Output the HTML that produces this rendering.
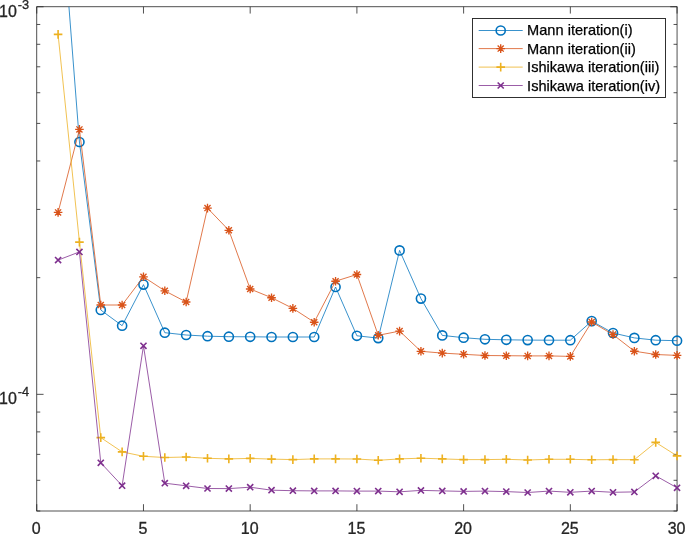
<!DOCTYPE html>
<html><head><meta charset="utf-8"><title>Iteration comparison</title>
<style>html,body{margin:0;padding:0;background:#fff;}body{width:685px;height:534px;overflow:hidden;font-family:"Liberation Sans",sans-serif;}svg{display:block;}</style>
</head><body>
<svg width="685" height="534" viewBox="0 0 685 534">
<defs><filter id="g" filterUnits="userSpaceOnUse" x="0" y="0" width="685" height="534"><feColorMatrix type="matrix" values="1 0 0 0 0 0 1 0 0 0 0 0 1 0 0 0 0 0 1 0"/></filter><clipPath id="ax"><rect x="36.75" y="6.75" width="640.3" height="504.25"/></clipPath></defs>
<rect width="685" height="534" fill="#fff"/>
<rect x="36.75" y="6.75" width="640.3" height="504.25" fill="none" stroke="#262626" stroke-width="0.8"/>
<path d="M36.75 511.0V504.2M36.75 6.75V13.55M143.47 511.0V504.2M143.47 6.75V13.55M250.18 511.0V504.2M250.18 6.75V13.55M356.90 511.0V504.2M356.90 6.75V13.55M463.62 511.0V504.2M463.62 6.75V13.55M570.33 511.0V504.2M570.33 6.75V13.55M677.05 511.0V504.2M677.05 6.75V13.55M36.75 6.75H43.55M677.05 6.75H670.25M36.75 394.33H43.55M677.05 394.33H670.25M36.75 24.48H40.25M677.05 24.48H673.55M36.75 44.31H40.25M677.05 44.31H673.55M36.75 66.79H40.25M677.05 66.79H673.55M36.75 92.73H40.25M677.05 92.73H673.55M36.75 123.42H40.25M677.05 123.42H673.55M36.75 160.98H40.25M677.05 160.98H673.55M36.75 209.41H40.25M677.05 209.41H673.55M36.75 277.66H40.25M677.05 277.66H673.55M36.75 412.06H40.25M677.05 412.06H673.55M36.75 431.89H40.25M677.05 431.89H673.55M36.75 454.36H40.25M677.05 454.36H673.55M36.75 480.31H40.25M677.05 480.31H673.55M36.75 511.00H40.25M677.05 511.00H673.55" stroke="#262626" stroke-width="0.8" fill="none"/>
<polyline points="58.09,-133.00 79.44,142.00 100.78,310.00 122.12,325.70 143.47,284.60 164.81,332.70 186.15,335.00 207.50,336.20 228.84,336.70 250.18,336.80 271.53,337.00 292.87,337.00 314.21,337.00 335.56,287.00 356.90,335.80 378.24,338.10 399.59,250.40 420.93,298.60 442.27,335.40 463.62,337.70 484.96,339.30 506.30,339.80 527.65,340.10 548.99,340.20 570.33,340.20 591.68,321.10 613.02,333.00 634.36,337.90 655.71,340.20 677.05,340.70" fill="none" stroke="#0072BD" stroke-width="0.78" stroke-linejoin="round" clip-path="url(#ax)"/>
<circle cx="79.44" cy="142.00" r="4.55" fill="none" stroke="#0072BD" stroke-width="1.6"/>
<circle cx="100.78" cy="310.00" r="4.55" fill="none" stroke="#0072BD" stroke-width="1.6"/>
<circle cx="122.12" cy="325.70" r="4.55" fill="none" stroke="#0072BD" stroke-width="1.6"/>
<circle cx="143.47" cy="284.60" r="4.55" fill="none" stroke="#0072BD" stroke-width="1.6"/>
<circle cx="164.81" cy="332.70" r="4.55" fill="none" stroke="#0072BD" stroke-width="1.6"/>
<circle cx="186.15" cy="335.00" r="4.55" fill="none" stroke="#0072BD" stroke-width="1.6"/>
<circle cx="207.50" cy="336.20" r="4.55" fill="none" stroke="#0072BD" stroke-width="1.6"/>
<circle cx="228.84" cy="336.70" r="4.55" fill="none" stroke="#0072BD" stroke-width="1.6"/>
<circle cx="250.18" cy="336.80" r="4.55" fill="none" stroke="#0072BD" stroke-width="1.6"/>
<circle cx="271.53" cy="337.00" r="4.55" fill="none" stroke="#0072BD" stroke-width="1.6"/>
<circle cx="292.87" cy="337.00" r="4.55" fill="none" stroke="#0072BD" stroke-width="1.6"/>
<circle cx="314.21" cy="337.00" r="4.55" fill="none" stroke="#0072BD" stroke-width="1.6"/>
<circle cx="335.56" cy="287.00" r="4.55" fill="none" stroke="#0072BD" stroke-width="1.6"/>
<circle cx="356.90" cy="335.80" r="4.55" fill="none" stroke="#0072BD" stroke-width="1.6"/>
<circle cx="378.24" cy="338.10" r="4.55" fill="none" stroke="#0072BD" stroke-width="1.6"/>
<circle cx="399.59" cy="250.40" r="4.55" fill="none" stroke="#0072BD" stroke-width="1.6"/>
<circle cx="420.93" cy="298.60" r="4.55" fill="none" stroke="#0072BD" stroke-width="1.6"/>
<circle cx="442.27" cy="335.40" r="4.55" fill="none" stroke="#0072BD" stroke-width="1.6"/>
<circle cx="463.62" cy="337.70" r="4.55" fill="none" stroke="#0072BD" stroke-width="1.6"/>
<circle cx="484.96" cy="339.30" r="4.55" fill="none" stroke="#0072BD" stroke-width="1.6"/>
<circle cx="506.30" cy="339.80" r="4.55" fill="none" stroke="#0072BD" stroke-width="1.6"/>
<circle cx="527.65" cy="340.10" r="4.55" fill="none" stroke="#0072BD" stroke-width="1.6"/>
<circle cx="548.99" cy="340.20" r="4.55" fill="none" stroke="#0072BD" stroke-width="1.6"/>
<circle cx="570.33" cy="340.20" r="4.55" fill="none" stroke="#0072BD" stroke-width="1.6"/>
<circle cx="591.68" cy="321.10" r="4.55" fill="none" stroke="#0072BD" stroke-width="1.6"/>
<circle cx="613.02" cy="333.00" r="4.55" fill="none" stroke="#0072BD" stroke-width="1.6"/>
<circle cx="634.36" cy="337.90" r="4.55" fill="none" stroke="#0072BD" stroke-width="1.6"/>
<circle cx="655.71" cy="340.20" r="4.55" fill="none" stroke="#0072BD" stroke-width="1.6"/>
<circle cx="677.05" cy="340.70" r="4.55" fill="none" stroke="#0072BD" stroke-width="1.6"/>
<polyline points="58.09,212.40 79.44,129.40 100.78,305.00 122.12,305.00 143.47,276.80 164.81,290.80 186.15,302.00 207.50,208.10 228.84,230.30 250.18,289.00 271.53,297.70 292.87,308.40 314.21,322.20 335.56,281.20 356.90,274.50 378.24,335.30 399.59,331.10 420.93,351.30 442.27,353.10 463.62,354.30 484.96,355.50 506.30,355.70 527.65,355.90 548.99,355.90 570.33,356.40 591.68,322.00 613.02,334.60 634.36,351.20 655.71,354.50 677.05,355.40" fill="none" stroke="#D95319" stroke-width="0.78" stroke-linejoin="round" clip-path="url(#ax)"/>
<path d="M53.79 212.40H62.39M58.09 208.10V216.70M55.05 209.36L61.13 215.44M55.05 215.44L61.13 209.36" stroke="#D95319" stroke-width="1.35" fill="none"/>
<path d="M75.14 129.40H83.74M79.44 125.10V133.70M76.40 126.36L82.48 132.44M76.40 132.44L82.48 126.36" stroke="#D95319" stroke-width="1.35" fill="none"/>
<path d="M96.48 305.00H105.08M100.78 300.70V309.30M97.74 301.96L103.82 308.04M97.74 308.04L103.82 301.96" stroke="#D95319" stroke-width="1.35" fill="none"/>
<path d="M117.82 305.00H126.42M122.12 300.70V309.30M119.08 301.96L125.16 308.04M119.08 308.04L125.16 301.96" stroke="#D95319" stroke-width="1.35" fill="none"/>
<path d="M139.17 276.80H147.77M143.47 272.50V281.10M140.43 273.76L146.51 279.84M140.43 279.84L146.51 273.76" stroke="#D95319" stroke-width="1.35" fill="none"/>
<path d="M160.51 290.80H169.11M164.81 286.50V295.10M161.77 287.76L167.85 293.84M161.77 293.84L167.85 287.76" stroke="#D95319" stroke-width="1.35" fill="none"/>
<path d="M181.85 302.00H190.45M186.15 297.70V306.30M183.11 298.96L189.19 305.04M183.11 305.04L189.19 298.96" stroke="#D95319" stroke-width="1.35" fill="none"/>
<path d="M203.20 208.10H211.80M207.50 203.80V212.40M204.46 205.06L210.54 211.14M204.46 211.14L210.54 205.06" stroke="#D95319" stroke-width="1.35" fill="none"/>
<path d="M224.54 230.30H233.14M228.84 226.00V234.60M225.80 227.26L231.88 233.34M225.80 233.34L231.88 227.26" stroke="#D95319" stroke-width="1.35" fill="none"/>
<path d="M245.88 289.00H254.48M250.18 284.70V293.30M247.14 285.96L253.22 292.04M247.14 292.04L253.22 285.96" stroke="#D95319" stroke-width="1.35" fill="none"/>
<path d="M267.23 297.70H275.83M271.53 293.40V302.00M268.49 294.66L274.57 300.74M268.49 300.74L274.57 294.66" stroke="#D95319" stroke-width="1.35" fill="none"/>
<path d="M288.57 308.40H297.17M292.87 304.10V312.70M289.83 305.36L295.91 311.44M289.83 311.44L295.91 305.36" stroke="#D95319" stroke-width="1.35" fill="none"/>
<path d="M309.91 322.20H318.51M314.21 317.90V326.50M311.17 319.16L317.25 325.24M311.17 325.24L317.25 319.16" stroke="#D95319" stroke-width="1.35" fill="none"/>
<path d="M331.26 281.20H339.86M335.56 276.90V285.50M332.52 278.16L338.60 284.24M332.52 284.24L338.60 278.16" stroke="#D95319" stroke-width="1.35" fill="none"/>
<path d="M352.60 274.50H361.20M356.90 270.20V278.80M353.86 271.46L359.94 277.54M353.86 277.54L359.94 271.46" stroke="#D95319" stroke-width="1.35" fill="none"/>
<path d="M373.94 335.30H382.54M378.24 331.00V339.60M375.20 332.26L381.28 338.34M375.20 338.34L381.28 332.26" stroke="#D95319" stroke-width="1.35" fill="none"/>
<path d="M395.29 331.10H403.89M399.59 326.80V335.40M396.55 328.06L402.63 334.14M396.55 334.14L402.63 328.06" stroke="#D95319" stroke-width="1.35" fill="none"/>
<path d="M416.63 351.30H425.23M420.93 347.00V355.60M417.89 348.26L423.97 354.34M417.89 354.34L423.97 348.26" stroke="#D95319" stroke-width="1.35" fill="none"/>
<path d="M437.97 353.10H446.57M442.27 348.80V357.40M439.23 350.06L445.31 356.14M439.23 356.14L445.31 350.06" stroke="#D95319" stroke-width="1.35" fill="none"/>
<path d="M459.32 354.30H467.92M463.62 350.00V358.60M460.58 351.26L466.66 357.34M460.58 357.34L466.66 351.26" stroke="#D95319" stroke-width="1.35" fill="none"/>
<path d="M480.66 355.50H489.26M484.96 351.20V359.80M481.92 352.46L488.00 358.54M481.92 358.54L488.00 352.46" stroke="#D95319" stroke-width="1.35" fill="none"/>
<path d="M502.00 355.70H510.60M506.30 351.40V360.00M503.26 352.66L509.34 358.74M503.26 358.74L509.34 352.66" stroke="#D95319" stroke-width="1.35" fill="none"/>
<path d="M523.35 355.90H531.95M527.65 351.60V360.20M524.61 352.86L530.69 358.94M524.61 358.94L530.69 352.86" stroke="#D95319" stroke-width="1.35" fill="none"/>
<path d="M544.69 355.90H553.29M548.99 351.60V360.20M545.95 352.86L552.03 358.94M545.95 358.94L552.03 352.86" stroke="#D95319" stroke-width="1.35" fill="none"/>
<path d="M566.03 356.40H574.63M570.33 352.10V360.70M567.29 353.36L573.37 359.44M567.29 359.44L573.37 353.36" stroke="#D95319" stroke-width="1.35" fill="none"/>
<path d="M587.38 322.00H595.98M591.68 317.70V326.30M588.64 318.96L594.72 325.04M588.64 325.04L594.72 318.96" stroke="#D95319" stroke-width="1.35" fill="none"/>
<path d="M608.72 334.60H617.32M613.02 330.30V338.90M609.98 331.56L616.06 337.64M609.98 337.64L616.06 331.56" stroke="#D95319" stroke-width="1.35" fill="none"/>
<path d="M630.06 351.20H638.66M634.36 346.90V355.50M631.32 348.16L637.40 354.24M631.32 354.24L637.40 348.16" stroke="#D95319" stroke-width="1.35" fill="none"/>
<path d="M651.41 354.50H660.01M655.71 350.20V358.80M652.67 351.46L658.75 357.54M652.67 357.54L658.75 351.46" stroke="#D95319" stroke-width="1.35" fill="none"/>
<path d="M672.75 355.40H681.35M677.05 351.10V359.70M674.01 352.36L680.09 358.44M674.01 358.44L680.09 352.36" stroke="#D95319" stroke-width="1.35" fill="none"/>
<polyline points="58.09,34.40 79.44,242.10 100.78,437.60 122.12,451.90 143.47,456.30 164.81,457.50 186.15,457.00 207.50,458.30 228.84,458.90 250.18,458.40 271.53,459.10 292.87,459.60 314.21,458.90 335.56,458.90 356.90,459.00 378.24,460.30 399.59,458.90 420.93,458.20 442.27,458.90 463.62,459.60 484.96,459.60 506.30,459.30 527.65,460.00 548.99,459.30 570.33,459.30 591.68,459.80 613.02,459.60 634.36,459.70 655.71,442.40 677.05,455.90" fill="none" stroke="#EDB120" stroke-width="0.78" stroke-linejoin="round" clip-path="url(#ax)"/>
<path d="M53.79 34.40H62.39M58.09 30.10V38.70" stroke="#EDB120" stroke-width="1.6" fill="none"/>
<path d="M75.14 242.10H83.74M79.44 237.80V246.40" stroke="#EDB120" stroke-width="1.6" fill="none"/>
<path d="M96.48 437.60H105.08M100.78 433.30V441.90" stroke="#EDB120" stroke-width="1.6" fill="none"/>
<path d="M117.82 451.90H126.42M122.12 447.60V456.20" stroke="#EDB120" stroke-width="1.6" fill="none"/>
<path d="M139.17 456.30H147.77M143.47 452.00V460.60" stroke="#EDB120" stroke-width="1.6" fill="none"/>
<path d="M160.51 457.50H169.11M164.81 453.20V461.80" stroke="#EDB120" stroke-width="1.6" fill="none"/>
<path d="M181.85 457.00H190.45M186.15 452.70V461.30" stroke="#EDB120" stroke-width="1.6" fill="none"/>
<path d="M203.20 458.30H211.80M207.50 454.00V462.60" stroke="#EDB120" stroke-width="1.6" fill="none"/>
<path d="M224.54 458.90H233.14M228.84 454.60V463.20" stroke="#EDB120" stroke-width="1.6" fill="none"/>
<path d="M245.88 458.40H254.48M250.18 454.10V462.70" stroke="#EDB120" stroke-width="1.6" fill="none"/>
<path d="M267.23 459.10H275.83M271.53 454.80V463.40" stroke="#EDB120" stroke-width="1.6" fill="none"/>
<path d="M288.57 459.60H297.17M292.87 455.30V463.90" stroke="#EDB120" stroke-width="1.6" fill="none"/>
<path d="M309.91 458.90H318.51M314.21 454.60V463.20" stroke="#EDB120" stroke-width="1.6" fill="none"/>
<path d="M331.26 458.90H339.86M335.56 454.60V463.20" stroke="#EDB120" stroke-width="1.6" fill="none"/>
<path d="M352.60 459.00H361.20M356.90 454.70V463.30" stroke="#EDB120" stroke-width="1.6" fill="none"/>
<path d="M373.94 460.30H382.54M378.24 456.00V464.60" stroke="#EDB120" stroke-width="1.6" fill="none"/>
<path d="M395.29 458.90H403.89M399.59 454.60V463.20" stroke="#EDB120" stroke-width="1.6" fill="none"/>
<path d="M416.63 458.20H425.23M420.93 453.90V462.50" stroke="#EDB120" stroke-width="1.6" fill="none"/>
<path d="M437.97 458.90H446.57M442.27 454.60V463.20" stroke="#EDB120" stroke-width="1.6" fill="none"/>
<path d="M459.32 459.60H467.92M463.62 455.30V463.90" stroke="#EDB120" stroke-width="1.6" fill="none"/>
<path d="M480.66 459.60H489.26M484.96 455.30V463.90" stroke="#EDB120" stroke-width="1.6" fill="none"/>
<path d="M502.00 459.30H510.60M506.30 455.00V463.60" stroke="#EDB120" stroke-width="1.6" fill="none"/>
<path d="M523.35 460.00H531.95M527.65 455.70V464.30" stroke="#EDB120" stroke-width="1.6" fill="none"/>
<path d="M544.69 459.30H553.29M548.99 455.00V463.60" stroke="#EDB120" stroke-width="1.6" fill="none"/>
<path d="M566.03 459.30H574.63M570.33 455.00V463.60" stroke="#EDB120" stroke-width="1.6" fill="none"/>
<path d="M587.38 459.80H595.98M591.68 455.50V464.10" stroke="#EDB120" stroke-width="1.6" fill="none"/>
<path d="M608.72 459.60H617.32M613.02 455.30V463.90" stroke="#EDB120" stroke-width="1.6" fill="none"/>
<path d="M630.06 459.70H638.66M634.36 455.40V464.00" stroke="#EDB120" stroke-width="1.6" fill="none"/>
<path d="M651.41 442.40H660.01M655.71 438.10V446.70" stroke="#EDB120" stroke-width="1.6" fill="none"/>
<path d="M672.75 455.90H681.35M677.05 451.60V460.20" stroke="#EDB120" stroke-width="1.6" fill="none"/>
<polyline points="58.09,260.10 79.44,251.90 100.78,462.80 122.12,485.70 143.47,345.80 164.81,483.20 186.15,485.80 207.50,488.50 228.84,488.60 250.18,487.20 271.53,490.20 292.87,490.70 314.21,490.90 335.56,490.90 356.90,491.10 378.24,491.10 399.59,491.80 420.93,490.40 442.27,490.90 463.62,491.40 484.96,491.10 506.30,491.60 527.65,492.50 548.99,491.10 570.33,492.30 591.68,491.10 613.02,492.30 634.36,491.90 655.71,475.80 677.05,487.80" fill="none" stroke="#7E2F8E" stroke-width="0.78" stroke-linejoin="round" clip-path="url(#ax)"/>
<path d="M55.04 257.05L61.14 263.15M55.04 263.15L61.14 257.05" stroke="#7E2F8E" stroke-width="1.6" fill="none"/>
<path d="M76.39 248.85L82.49 254.95M76.39 254.95L82.49 248.85" stroke="#7E2F8E" stroke-width="1.6" fill="none"/>
<path d="M97.73 459.75L103.83 465.85M97.73 465.85L103.83 459.75" stroke="#7E2F8E" stroke-width="1.6" fill="none"/>
<path d="M119.07 482.65L125.17 488.75M119.07 488.75L125.17 482.65" stroke="#7E2F8E" stroke-width="1.6" fill="none"/>
<path d="M140.42 342.75L146.52 348.85M140.42 348.85L146.52 342.75" stroke="#7E2F8E" stroke-width="1.6" fill="none"/>
<path d="M161.76 480.15L167.86 486.25M161.76 486.25L167.86 480.15" stroke="#7E2F8E" stroke-width="1.6" fill="none"/>
<path d="M183.10 482.75L189.20 488.85M183.10 488.85L189.20 482.75" stroke="#7E2F8E" stroke-width="1.6" fill="none"/>
<path d="M204.45 485.45L210.55 491.55M204.45 491.55L210.55 485.45" stroke="#7E2F8E" stroke-width="1.6" fill="none"/>
<path d="M225.79 485.55L231.89 491.65M225.79 491.65L231.89 485.55" stroke="#7E2F8E" stroke-width="1.6" fill="none"/>
<path d="M247.13 484.15L253.23 490.25M247.13 490.25L253.23 484.15" stroke="#7E2F8E" stroke-width="1.6" fill="none"/>
<path d="M268.48 487.15L274.58 493.25M268.48 493.25L274.58 487.15" stroke="#7E2F8E" stroke-width="1.6" fill="none"/>
<path d="M289.82 487.65L295.92 493.75M289.82 493.75L295.92 487.65" stroke="#7E2F8E" stroke-width="1.6" fill="none"/>
<path d="M311.16 487.85L317.26 493.95M311.16 493.95L317.26 487.85" stroke="#7E2F8E" stroke-width="1.6" fill="none"/>
<path d="M332.51 487.85L338.61 493.95M332.51 493.95L338.61 487.85" stroke="#7E2F8E" stroke-width="1.6" fill="none"/>
<path d="M353.85 488.05L359.95 494.15M353.85 494.15L359.95 488.05" stroke="#7E2F8E" stroke-width="1.6" fill="none"/>
<path d="M375.19 488.05L381.29 494.15M375.19 494.15L381.29 488.05" stroke="#7E2F8E" stroke-width="1.6" fill="none"/>
<path d="M396.54 488.75L402.64 494.85M396.54 494.85L402.64 488.75" stroke="#7E2F8E" stroke-width="1.6" fill="none"/>
<path d="M417.88 487.35L423.98 493.45M417.88 493.45L423.98 487.35" stroke="#7E2F8E" stroke-width="1.6" fill="none"/>
<path d="M439.22 487.85L445.32 493.95M439.22 493.95L445.32 487.85" stroke="#7E2F8E" stroke-width="1.6" fill="none"/>
<path d="M460.57 488.35L466.67 494.45M460.57 494.45L466.67 488.35" stroke="#7E2F8E" stroke-width="1.6" fill="none"/>
<path d="M481.91 488.05L488.01 494.15M481.91 494.15L488.01 488.05" stroke="#7E2F8E" stroke-width="1.6" fill="none"/>
<path d="M503.25 488.55L509.35 494.65M503.25 494.65L509.35 488.55" stroke="#7E2F8E" stroke-width="1.6" fill="none"/>
<path d="M524.60 489.45L530.70 495.55M524.60 495.55L530.70 489.45" stroke="#7E2F8E" stroke-width="1.6" fill="none"/>
<path d="M545.94 488.05L552.04 494.15M545.94 494.15L552.04 488.05" stroke="#7E2F8E" stroke-width="1.6" fill="none"/>
<path d="M567.28 489.25L573.38 495.35M567.28 495.35L573.38 489.25" stroke="#7E2F8E" stroke-width="1.6" fill="none"/>
<path d="M588.63 488.05L594.73 494.15M588.63 494.15L594.73 488.05" stroke="#7E2F8E" stroke-width="1.6" fill="none"/>
<path d="M609.97 489.25L616.07 495.35M609.97 495.35L616.07 489.25" stroke="#7E2F8E" stroke-width="1.6" fill="none"/>
<path d="M631.31 488.85L637.41 494.95M631.31 494.95L637.41 488.85" stroke="#7E2F8E" stroke-width="1.6" fill="none"/>
<path d="M652.66 472.75L658.76 478.85M652.66 478.85L658.76 472.75" stroke="#7E2F8E" stroke-width="1.6" fill="none"/>
<path d="M674.00 484.75L680.10 490.85M674.00 490.85L680.10 484.75" stroke="#7E2F8E" stroke-width="1.6" fill="none"/>
<g filter="url(#g)" font-family="Liberation Sans, sans-serif" font-size="16.0" fill="#262626" stroke="#262626" stroke-width="0.3">
<text x="36.25" y="534.0" text-anchor="middle">0</text>
<text x="142.97" y="534.0" text-anchor="middle">5</text>
<text x="249.68" y="534.0" text-anchor="middle">10</text>
<text x="356.40" y="534.0" text-anchor="middle">15</text>
<text x="463.12" y="534.0" text-anchor="middle">20</text>
<text x="569.83" y="534.0" text-anchor="middle">25</text>
<text x="676.55" y="534.0" text-anchor="middle">30</text>
<text x="16.8" y="16.65" text-anchor="end">10</text>
<text x="17.7" y="8.75" font-size="12.8">-3</text>
<text x="16.8" y="404.23" text-anchor="end">10</text>
<text x="17.7" y="396.33" font-size="12.8">-4</text>
</g>
<rect x="472.5" y="18.5" width="193.0" height="79.0" fill="#fff" stroke="#262626" stroke-width="0.95"/>
<g filter="url(#g)" font-family="Liberation Sans, sans-serif" font-size="14.6" fill="#000">
<path d="M478.7 30.5H522.7" stroke="#0072BD" stroke-width="0.78" fill="none"/>
<circle cx="500.70" cy="30.50" r="4.55" fill="none" stroke="#0072BD" stroke-width="1.6"/>
<text x="527.1" y="35.00" stroke="#000" stroke-width="0.25">Mann iteration(i)</text>
<path d="M478.7 48.6H522.7" stroke="#D95319" stroke-width="0.78" fill="none"/>
<path d="M496.40 48.60H505.00M500.70 44.30V52.90M497.66 45.56L503.74 51.64M497.66 51.64L503.74 45.56" stroke="#D95319" stroke-width="1.35" fill="none"/>
<text x="527.1" y="53.70" stroke="#000" stroke-width="0.25">Mann iteration(ii)</text>
<path d="M478.7 67.1H522.7" stroke="#EDB120" stroke-width="0.78" fill="none"/>
<path d="M496.40 67.10H505.00M500.70 62.80V71.40" stroke="#EDB120" stroke-width="1.6" fill="none"/>
<text x="527.1" y="71.90" stroke="#000" stroke-width="0.25">Ishikawa iteration(iii)</text>
<path d="M478.7 85.5H522.7" stroke="#7E2F8E" stroke-width="0.78" fill="none"/>
<path d="M497.65 82.45L503.75 88.55M497.65 88.55L503.75 82.45" stroke="#7E2F8E" stroke-width="1.6" fill="none"/>
<text x="527.1" y="90.70" stroke="#000" stroke-width="0.25">Ishikawa iteration(iv)</text>
</g>
</svg>
</body></html>
